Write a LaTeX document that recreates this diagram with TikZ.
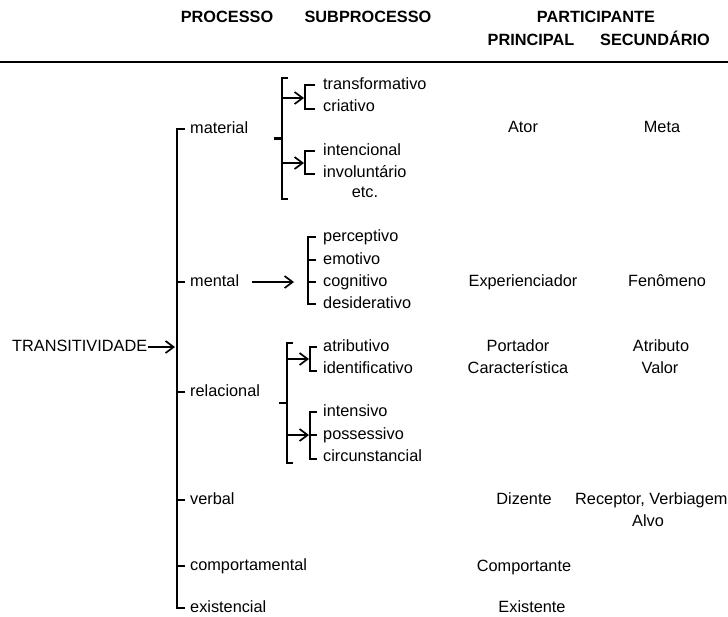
\documentclass[tikz,border=0pt]{standalone}
\usepackage{fontspec}
\setmainfont{Liberation Sans}
\usetikzlibrary{arrows.meta}
\tikzset{
  txt/.style={font=\fontsize{16.3}{19}\selectfont, inner sep=0pt, text height=11.7pt, text depth=3.4pt},
  head/.style={txt, font=\fontsize{16.3}{19}\selectfont\bfseries},
  item/.style={txt, anchor=west},
  brace/.style={line width=2.2pt},
  pointer/.style={line width=1.7pt, -{Straight Barb[length=8pt,width=12pt,line width=1.7pt]}}
}
\begin{document}
\begin{tikzpicture}[x=1pt,y=-1pt]
    \useasboundingbox (0,0) rectangle (728,616);
    \node[head] (proc) at (227,18) {PROCESSO};
    \node[head] (subproc) at (368,18) {SUBPROCESSO};
    \node[head] (partic) at (596,18) {PARTICIPANTE};
    \node[head] (princ) at (531,41) {PRINCIPAL};
    \node[head] (secund) at (655,41) {SECUND\'ARIO};
    \draw[line width=2.5pt] (0,62) -- (728,62);

    \node[item] (trans) at (12,347) {TRANSITIVIDADE};
    \coordinate (spine) at (177,0);
    \node[item] (material) at (190,129) {material};
    \node[item] (mental) at (190,282) {mental};
    \node[item] (relacional) at (190,392) {relacional};
    \node[item] (verbal) at (190,500) {verbal};
    \node[item] (comport) at (190,566) {comportamental};
    \node[item] (existencial) at (190,608) {existencial};
    \draw[brace] ([xshift=-5pt]material.west) -| (spine |- existencial.west) -- ([xshift=-5pt]existencial.west);
    \foreach \p in {mental,relacional,verbal,comport}{
      \draw[brace] (spine |- \p.west) -- ([xshift=-5pt]\p.west);
    }
    \draw[pointer, shorten >=2pt] ([xshift=1pt]trans.east) -- (trans.east -| spine);

    \node[item] (transf) at (323,85) {transformativo};
    \node[item] (criat) at (323,107) {criativo};
    \node[item] (intenc) at (323,151) {intencional};
    \node[item] (involunt) at (323,173) {involunt\'ario};
    \node[txt] (etc) at (365,193) {etc.};
    \draw[brace] (288,78) -| (282,199) -- (288,199);
    \draw[brace] (282,138.5) -- (274,138.5);
    \draw[brace] (315,85) -| (305,109) -- (315,109);
    \draw[brace] (315,151) -| (305,174) -- (315,174);
    \coordinate (matup) at (304,98);
    \coordinate (matdown) at (304,163);
    \draw[pointer] (282,98) -- (matup);
    \draw[pointer] (282,163) -- (matdown);

    \node[item] (percep) at (323,237) {perceptivo};
    \node[item] (emot) at (323,260) {emotivo};
    \node[item] (cognit) at (323,282) {cognitivo};
    \node[item] (desid) at (323,304) {desiderativo};
    \coordinate (mentin) at (294,282);
    \draw[pointer] ([xshift=13pt]mental.east) -- (mentin);
    \draw[brace] (316,237) -| (308,304) -- (316,304);
    \foreach \y in {260,282}{
      \draw[brace] (308,\y) -- (316,\y);
    }

    \node[item] (atrib) at (323,347) {atributivo};
    \node[item] (ident) at (323,369) {identificativo};
    \node[item] (intens) at (323,412) {intensivo};
    \node[item] (posses) at (323,435) {possessivo};
    \node[item] (circ) at (323,457) {circunstancial};
    \draw[brace] (293,343) -| (287,463) -- (293,463);
    \draw[brace] (287,403) -- (279,403);
    \draw[brace] (317,347) -| (310,371) -- (317,371);
    \draw[brace] (317,412) -| (310,459) -- (317,459);
    \draw[brace] (310,435) -- (317,435);
    \coordinate (relup) at (309,359);
    \coordinate (reldown) at (309,435);
    \draw[pointer] (287,359) -- (relup);
    \draw[pointer] (287,435) -- (reldown);

    \node[txt] (ator) at (523,128) {Ator};
    \node[txt] (meta) at (662,128) {Meta};
    \node[txt] (exper) at (523,282) {Experienciador};
    \node[txt] (fenom) at (667,282) {Fen\^omeno};
    \node[txt] (portad) at (518,347) {Portador};
    \node[txt] (caract) at (518,369) {Caracter\'istica};
    \node[txt] (atributo) at (661,347) {Atributo};
    \node[txt] (valor) at (660,369) {Valor};
    \node[txt] (dizente) at (524,500) {Dizente};
    \node[item] (recept) at (575,500) {Receptor, Verbiagem};
    \node[txt] (alvo) at (648,522) {Alvo};
    \node[txt] (comportante) at (524,567) {Comportante};
    \node[txt] (existente) at (532,608) {Existente};
  \end{tikzpicture}
\end{document}
